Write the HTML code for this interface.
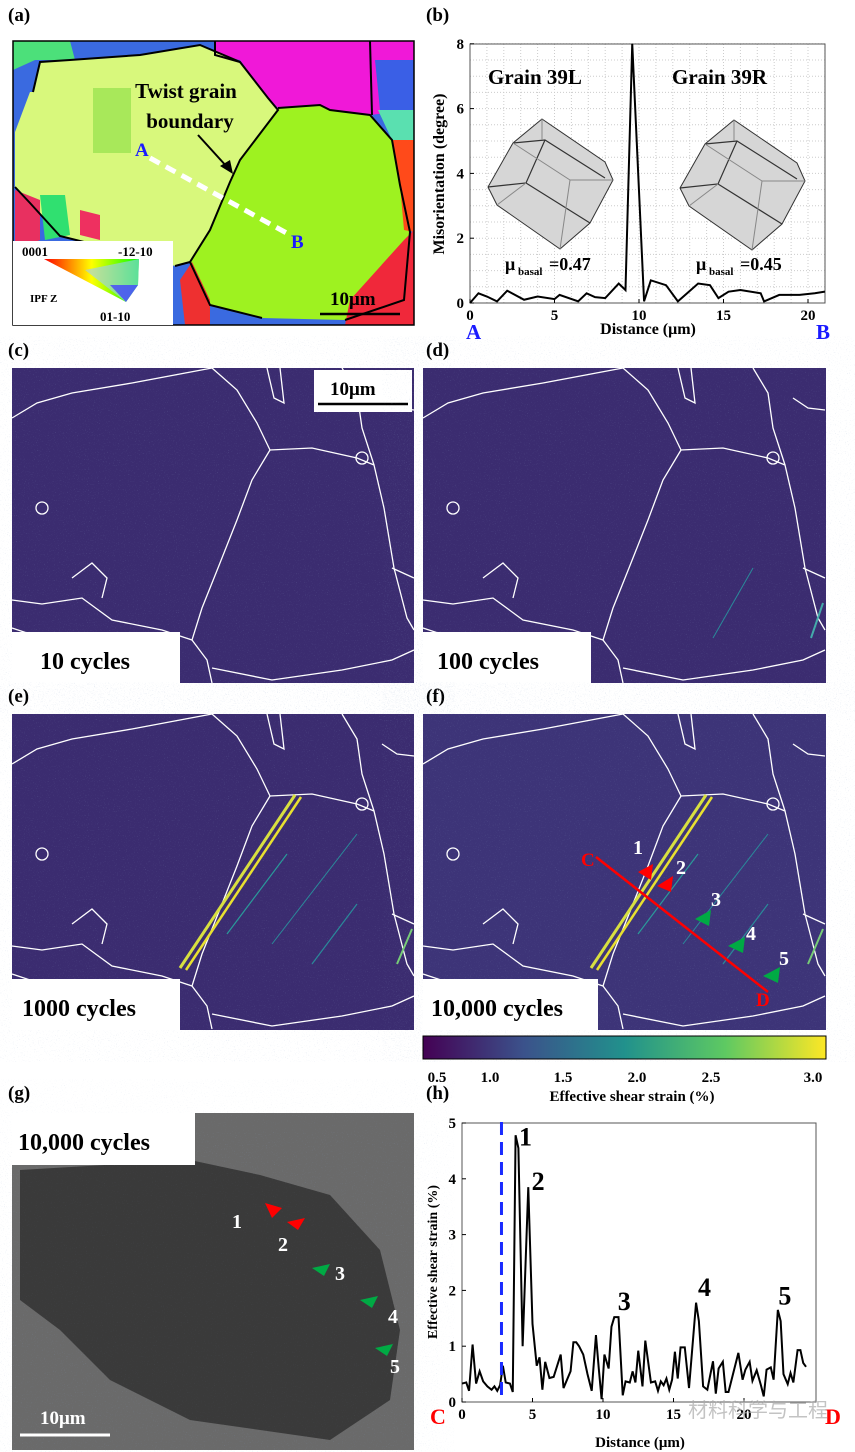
<!DOCTYPE html>
<html><head><meta charset="utf-8"><style>
body{margin:0;background:#fff;width:855px;height:1452px;position:relative;overflow:hidden;font-family:"Liberation Serif",serif}
.lab{position:absolute;font-weight:bold;font-size:19px;color:#000}
svg{position:absolute;left:0;top:0}
</style></head><body>
<div class="lab" style="left:8px;top:5px">(a)</div>
<div class="lab" style="left:426px;top:5px">(b)</div>
<div class="lab" style="left:8px;top:340px">(c)</div>
<div class="lab" style="left:426px;top:340px">(d)</div>
<div class="lab" style="left:8px;top:686px">(e)</div>
<div class="lab" style="left:426px;top:686px">(f)</div>
<div class="lab" style="left:8px;top:1083px">(g)</div>
<div class="lab" style="left:426px;top:1083px">(h)</div>

<svg width="855" height="1452" font-family="Liberation Serif, serif">
<defs>
<linearGradient id="vir" x1="0" x2="1"><stop offset="0" stop-color="#440154"/><stop offset="0.25" stop-color="#3b528b"/><stop offset="0.5" stop-color="#21918c"/><stop offset="0.75" stop-color="#5ec962"/><stop offset="1" stop-color="#fde725"/></linearGradient>
<filter id="spk"><feTurbulence type="fractalNoise" baseFrequency="0.9" numOctaves="1" seed="3"/><feColorMatrix values="0 0 0 0 0.25  0 0 0 0 0.35  0 0 0 0 0.55  0 0 0 1.2 -0.75"/></filter>
<linearGradient id="ipf" x1="0" y1="0" x2="1" y2="0"><stop offset="0" stop-color="#f00"/><stop offset="0.5" stop-color="#ff0"/><stop offset="1" stop-color="#0f0"/></linearGradient>
<g id="gb" fill="none" stroke="#fff" stroke-width="1.3">
<polyline points="0,50 25,35 60,25 120,15 200,0"/>
<polyline points="200,0 225,22 245,55 258,82 300,80 345,90 362,97 372,140 382,200 395,250 402,262"/>
<polyline points="258,82 240,112 225,152 206,200 190,240 180,272 195,292 200,315"/>
<polyline points="0,232 30,236 70,230 100,252 150,262 180,272"/>
<polyline points="200,300 260,312 330,302 380,292 402,282"/>
<polyline points="330,0 345,25 350,60 362,97"/>
<polyline points="255,0 262,30 272,35 268,0"/>
<polyline points="370,30 385,40 402,42"/>
<polyline points="30,270 28,315"/><polyline points="0,260 30,270 60,275 80,300 78,315"/>
<circle cx="350" cy="90" r="6"/><circle cx="140" cy="300" r="8"/><circle cx="30" cy="140" r="6"/>
<polyline points="380,200 402,210"/><polyline points="60,210 80,195 95,210 90,230"/>
</g>
</defs>

<g>
<rect x="13" y="41" width="401" height="284" fill="#3a6ae0"/>
<polygon points="13,41 70,41 75,60 35,60 13,70" fill="#4ce07a"/>
<polygon points="215,41 414,41 414,110 370,115 330,110 320,106 278,108 268,98 240,60 215,55" fill="#f018d8"/>
<polygon points="375,60 414,60 414,110 380,110" fill="#3a5fe6"/>
<polygon points="33,92 40,62 70,60 140,55 200,45 240,62 268,98 278,110 240,160 230,182 210,230 190,262 175,266 160,262 110,262 100,246 60,236 30,203 15,187 15,132 30,92" fill="#d8f87c"/>
<rect x="93" y="88" width="38" height="65" fill="#a8e85a"/>
<polygon points="278,108 320,105 330,110 370,115 392,140 400,185 410,232 404,300 345,320 262,318 210,305 190,262 210,230 230,182 240,160" fill="#9ef220"/>
<polygon points="392,140 414,140 414,232 404,230 400,185" fill="#ff4a1a"/>
<polygon points="404,240 414,230 414,325 345,325 350,300" fill="#f0283a"/>
<polygon points="192,262 210,300 210,325 185,325 180,280" fill="#ee3030"/>
<polygon points="15,190 40,200 40,240 15,250" fill="#e83060"/>
<polygon points="40,195 65,195 70,235 45,240" fill="#30e070"/>
<polygon points="80,210 100,215 100,240 80,235" fill="#ee3060"/>
<polygon points="378,110 414,110 414,140 392,140" fill="#5ae0b0"/>
<g fill="none" stroke="#000" stroke-width="2">
<polyline points="33,92 40,62 70,60 140,55 200,45 240,62 268,98 278,110 240,160 230,182 210,230 190,262 175,266"/>
<polyline points="278,108 320,105 330,110 370,115 392,140 400,185 410,232 404,300 345,320"/>
<polyline points="190,262 210,305 262,318"/><polyline points="15,187 30,203 60,236 100,246 110,262"/>
<polyline points="215,41 215,55 240,62"/><polyline points="370,41 372,115"/>
</g>
<rect x="13" y="41" width="401" height="284" fill="none" stroke="#000" stroke-width="1.5"/>
<line x1="150" y1="158" x2="292" y2="236" stroke="#fff" stroke-width="5" stroke-dasharray="11,7"/>
<text x="135" y="156" font-size="19" font-weight="bold" fill="#1a1aff">A</text>
<text x="291" y="248" font-size="19" font-weight="bold" fill="#1a1aff">B</text>
<text x="186" y="98" font-size="21" font-weight="bold" text-anchor="middle">Twist grain</text>
<text x="190" y="128" font-size="21" font-weight="bold" text-anchor="middle">boundary</text>
<line x1="198" y1="135" x2="228" y2="168" stroke="#000" stroke-width="2"/><polygon points="233,174 220,166 230,160" fill="#000"/>
<rect x="13" y="241" width="160" height="84" fill="#fff"/>
<polygon points="44,259 139,259 138,285 126,302" fill="url(#ipf)"/>
<polygon points="85,270 139,259 138,285 126,302" fill="#9cf" opacity="0.6"/>
<polygon points="110,285 138,285 126,302" fill="#44f" opacity="0.8"/>
<text x="22" y="256" font-size="13" font-weight="bold">0001</text>
<text x="118" y="256" font-size="13" font-weight="bold">-12-10</text>
<text x="30" y="302" font-size="11" font-weight="bold">IPF Z</text>
<text x="100" y="321" font-size="13" font-weight="bold">01-10</text>
<text x="330" y="305" font-size="19" font-weight="bold">10μm</text>
<line x1="320" y1="314" x2="400" y2="314" stroke="#000" stroke-width="2.5"/>
</g>

<g transform="translate(12,368)">
<rect width="402" height="315" fill="#3b2c70"/><rect width="402" height="315" filter="url(#spk)"/><use href="#gb"/>
<rect x="0" y="264" width="168" height="51" fill="#fff"/><text x="28" y="301" font-size="24" font-weight="bold">10 cycles</text>
<rect x="302" y="2" width="98" height="42" fill="#fff"/><text x="318" y="27" font-size="19" font-weight="bold">10μm</text><line x1="306" y1="36" x2="396" y2="36" stroke="#000" stroke-width="2.5"/>
</g>
<g transform="translate(423,368)">
<rect width="403" height="315" fill="#3b2c70"/><rect width="403" height="315" filter="url(#spk)"/><use href="#gb"/>
<line x1="290" y1="270" x2="330" y2="200" stroke="#2a8a9a" stroke-width="1"/><line x1="388" y1="270" x2="400" y2="235" stroke="#4aa" stroke-width="2"/>
<rect x="0" y="264" width="168" height="51" fill="#fff"/><text x="14" y="301" font-size="24" font-weight="bold">100 cycles</text>
</g>
<g transform="translate(12,714)">
<rect width="402" height="316" fill="#3b2c70"/><rect width="402" height="316" filter="url(#spk)"/><use href="#gb"/>
<line x1="168" y1="254" x2="283" y2="81" stroke="#d8e040" stroke-width="3"/><line x1="174" y1="256" x2="289" y2="83" stroke="#e8e030" stroke-width="2.5"/>
<line x1="215" y1="220" x2="275" y2="140" stroke="#2a9a9a" stroke-width="1.2"/><line x1="260" y1="230" x2="345" y2="120" stroke="#2a8a9a" stroke-width="1"/><line x1="300" y1="250" x2="345" y2="190" stroke="#2a8a9a" stroke-width="1.2"/><line x1="385" y1="250" x2="400" y2="215" stroke="#7c7" stroke-width="2"/>
<rect x="0" y="265" width="168" height="51" fill="#fff"/><text x="10" y="302" font-size="24" font-weight="bold">1000 cycles</text>
</g>
<g transform="translate(423,714)">
<rect width="403" height="316" fill="#3d3478"/><rect width="403" height="316" filter="url(#spk)"/><use href="#gb"/>
<line x1="168" y1="254" x2="283" y2="81" stroke="#d8e040" stroke-width="3"/><line x1="174" y1="256" x2="289" y2="83" stroke="#e8e030" stroke-width="2.5"/>
<line x1="215" y1="220" x2="275" y2="140" stroke="#2a9a9a" stroke-width="1.2"/><line x1="260" y1="230" x2="345" y2="120" stroke="#2a8a9a" stroke-width="1"/><line x1="300" y1="250" x2="345" y2="190" stroke="#2a8a9a" stroke-width="1.2"/><line x1="385" y1="250" x2="400" y2="215" stroke="#7c7" stroke-width="2"/>
<line x1="173" y1="143" x2="345" y2="278" stroke="#f00" stroke-width="2.5"/>
<text x="158" y="152" font-size="19" font-weight="bold" fill="#f00">C</text><text x="333" y="292" font-size="19" font-weight="bold" fill="#f00">D</text>
<g font-size="20" font-weight="bold" fill="#fff"><text x="210" y="140">1</text><text x="253" y="160">2</text><text x="288" y="192">3</text><text x="323" y="226">4</text><text x="356" y="251">5</text></g>
<g><polygon points="215,158 230,150 228,166" fill="#f00"/><polygon points="234,172 250,162 248,178" fill="#f00"/><polygon points="272,205 288,196 286,212" fill="#0a4"/><polygon points="305,232 322,223 320,239" fill="#0a4"/><polygon points="340,262 357,253 355,269" fill="#0a4"/></g>
<rect x="0" y="265" width="175" height="51" fill="#fff"/><text x="8" y="302" font-size="24" font-weight="bold">10,000 cycles</text>
</g>
<g>
<rect x="423" y="1036" width="403" height="23" fill="url(#vir)" stroke="#000"/>
<g font-size="15" font-weight="bold" text-anchor="middle"><text x="437" y="1082">0.5</text><text x="490" y="1082">1.0</text><text x="563" y="1082">1.5</text><text x="637" y="1082">2.0</text><text x="711" y="1082">2.5</text><text x="813" y="1082">3.0</text>
<text x="632" y="1101" font-size="15">Effective shear strain (%)</text></g>
</g>
<g>
<rect x="12" y="1113" width="402" height="337" fill="#6a6a6a"/>
<rect x="12" y="1113" width="402" height="337" filter="url(#spk)" opacity="0.6"/>
<polygon points="20,1170 190,1160 260,1175 330,1195 380,1250 400,1330 390,1400 330,1440 190,1420 110,1380 60,1330 20,1300" fill="#3a3a3a"/>
<polygon points="20,1170 190,1160 260,1175 330,1195 380,1250 400,1330 390,1400 330,1440 190,1420 110,1380 60,1330 20,1300" filter="url(#spk)" opacity="0.4"/>
<rect x="12" y="1113" width="183" height="52" fill="#fff"/><text x="18" y="1150" font-size="24" font-weight="bold">10,000 cycles</text>
<g font-size="20" font-weight="bold" fill="#fff"><text x="232" y="1228">1</text><text x="278" y="1251">2</text><text x="335" y="1280">3</text><text x="388" y="1323">4</text><text x="390" y="1373">5</text></g>
<g><polygon points="265,1203 282,1208 272,1218" fill="#f00"/><polygon points="287,1222 305,1218 298,1230" fill="#f00"/><polygon points="312,1268 330,1264 324,1276" fill="#0a4"/><polygon points="360,1300 378,1296 372,1308" fill="#0a4"/><polygon points="375,1348 393,1344 387,1356" fill="#0a4"/></g>
<text x="40" y="1424" font-size="19" font-weight="bold" fill="#fff">10μm</text><line x1="20" y1="1435" x2="110" y2="1435" stroke="#fff" stroke-width="3"/>
</g>
<g id="chartB"></g>
<g id="chartH"></g>
</svg>
<script>
const ns="http://www.w3.org/2000/svg";
const bX=[0,0.5,1.0,1.6,2.2,3.2,4.0,5.0,5.3,6.4,6.9,7.4,8.0,8.8,9.2,9.6,10.3,10.7,11.6,12.3,13.5,14.2,14.7,15.3,16.0,17.2,17.4,18.3,19.5,20.4,21.0];
const bY=[0,0.3,0.2,0.05,0.38,0.1,0.2,0.12,0.25,0.05,0.3,0.18,0.15,0.6,0.4,8,0.05,0.7,0.55,0.05,0.6,0.55,0.15,0.35,0.4,0.3,0.05,0.25,0.25,0.3,0.35];
const bXTicks=[0,5,10,15,20];const bYTicks=[0,2,4,6,8];
const hX=[0,0.3,0.5,0.75,1.0,1.25,1.5,1.8,2.1,2.3,2.5,2.7,2.9,3.1,3.4,3.6,3.8,4.0,4.3,4.7,5.0,5.3,5.5,5.7,5.9,6.2,6.5,7.0,7.2,7.7,7.9,8.1,8.3,8.6,8.9,9.2,9.5,9.7,9.9,10.1,10.4,10.6,10.8,11.1,11.4,11.6,11.9,12.1,12.3,12.5,12.8,13.0,13.4,13.7,13.9,14.1,14.3,14.5,14.7,14.9,15.1,15.3,15.5,15.8,16.1,16.6,16.8,17.1,17.4,17.8,18.0,18.2,18.5,18.7,18.9,19.6,19.9,20.1,20.4,20.6,20.9,21.2,21.4,21.6,21.9,22.1,22.4,22.6,22.8,23.1,23.3,23.5,23.8,24.0,24.2,24.4];
const hY=[0.33,0.35,0.2,1.03,0.33,0.55,0.37,0.28,0.22,0.28,0.2,0.3,0.65,0.35,0.33,0.18,4.78,4.55,1.0,3.85,1.4,0.65,0.8,0.22,0.72,0.43,0.45,0.85,0.25,0.55,1.07,1.07,1.0,0.85,0.5,0.2,1.2,0.6,0.05,0.85,0.6,1.35,1.52,1.52,0.12,0.37,0.35,0.55,0.35,0.92,0.28,1.1,0.35,0.37,0.2,0.37,0.3,0.42,0.22,0.4,0.9,0.42,0.98,0.98,0.25,1.78,1.45,0.28,0.22,0.73,0.15,0.6,0.72,0.18,0.18,0.88,0.4,0.58,0.72,0.38,0.57,0.3,0.1,0.58,0.62,0.4,1.65,1.45,0.5,0.32,0.52,0.35,0.93,0.93,0.7,0.63];
const hXTicks=[0,5,10,15,20];const hYTicks=[0,1,2,3,4,5];
function el(p,t,a){const e=document.createElementNS(ns,t);for(const k in a)e.setAttribute(k,a[k]);p.appendChild(e);return e;}
function chart(g,o){
 const sx=v=>o.x0+(v-o.xmin)*o.kx, sy=v=>o.y0-(v)*o.ky;
 if(o.grid){
  for(let v=0;v<=o.xmax;v+=1)el(g,'line',{x1:sx(v),x2:sx(v),y1:o.y0,y2:o.y1,stroke:'#ccc','stroke-dasharray':'1,2'});
  for(let v=0;v<=o.yTicks[o.yTicks.length-1];v+=o.ygs)el(g,'line',{x1:o.x0,x2:o.x1,y1:sy(v),y2:sy(v),stroke:'#ccc','stroke-dasharray':'1,2'});}
 el(g,'rect',{x:o.x0,y:o.y1,width:o.x1-o.x0,height:o.y0-o.y1,fill:'none',stroke:'#555','stroke-width':1});
 o.xTicks.forEach(v=>{el(g,'line',{x1:sx(v),x2:sx(v),y1:o.y0,y2:o.y0-4,stroke:'#000'});
  const t=el(g,'text',{x:sx(v),y:o.y0+17,'font-size':15,'font-weight':'bold','text-anchor':'middle'});t.textContent=v;});
 o.yTicks.forEach(v=>{el(g,'line',{x1:o.x0,x2:o.x0+4,y1:sy(v),y2:sy(v),stroke:'#000'});
  const t=el(g,'text',{x:o.x0-6,y:sy(v)+5,'font-size':15,'font-weight':'bold','text-anchor':'end'});t.textContent=v;});
 const line=el(g,'polyline',{points:o.xs.map((x,i)=>sx(x)+','+sy(o.ys[i])).join(' '),fill:'none',stroke:'#000','stroke-width':2});
 
 
 return {sx,sy};
}
const gB=document.getElementById('chartB');
function txt(g,x,y,s,a){const t=el(g,'text',Object.assign({x,y,'font-weight':'bold'},a));t.textContent=s;return t;}
const cb=chart(gB,{x0:470,x1:825,y0:303,y1:44,xmin:0,xmax:21,kx:16.9,ky:32.4,xTicks:bXTicks,yTicks:bYTicks,xs:bX,ys:bY,grid:true,ygs:0.5});
txt(gB,488,84,'Grain 39L',{'font-size':21});txt(gB,672,84,'Grain 39R',{'font-size':21});
[[490,120],[682,121]].forEach(([x,y])=>{
 const P=(pts)=>pts.map(([a,b])=>(x+a)+','+(y+b)).join(' ');
 el(gB,'polygon',{points:P([[52,-1],[115,42],[123,60],[100,103],[70,129],[7,85],[-2,67],[23,23]]),fill:'#d6d6d6',stroke:'#333','stroke-width':1});
 el(gB,'polyline',{points:P([[23,23],[55,20],[115,58]]),fill:'none',stroke:'#333','stroke-width':1.2});
 el(gB,'polyline',{points:P([[55,20],[36,63],[-2,67]]),fill:'none',stroke:'#333','stroke-width':1.2});
 el(gB,'polyline',{points:P([[36,63],[100,103]]),fill:'none',stroke:'#333','stroke-width':1.2});
 el(gB,'polyline',{points:P([[52,-1],[52,20]]),fill:'none',stroke:'#888'});
 el(gB,'polyline',{points:P([[23,23],[80,60],[123,60]]),fill:'none',stroke:'#888'});
 el(gB,'polyline',{points:P([[80,60],[70,129]]),fill:'none',stroke:'#888'});
 el(gB,'polyline',{points:P([[7,85],[36,63]]),fill:'none',stroke:'#888'});
});
txt(gB,505,270,'μ',{'font-size':18});txt(gB,518,275,'basal',{'font-size':11});txt(gB,549,270,'=0.47',{'font-size':18});
txt(gB,696,270,'μ',{'font-size':18});txt(gB,709,275,'basal',{'font-size':11});txt(gB,740,270,'=0.45',{'font-size':18});
txt(gB,648,334,'Distance (μm)',{'font-size':16,'text-anchor':'middle'});
txt(gB,0,0,'Misorientation (degree)',{'font-size':16,'text-anchor':'middle',transform:'translate(444,174) rotate(-90)'});
txt(gB,466,339,'A',{'font-size':21,fill:'#1a1aff'});txt(gB,816,339,'B',{'font-size':21,fill:'#1a1aff'});
const gH=document.getElementById('chartH');
const ch=chart(gH,{x0:462,x1:816,y0:1402,y1:1123,xmin:0,xmax:25,kx:14.1,ky:55.8,xTicks:hXTicks,yTicks:hYTicks,xs:hX,ys:hY});
el(gH,'line',{x1:ch.sx(2.8),x2:ch.sx(2.8),y1:1122,y2:1402,stroke:'#1a2bff','stroke-width':3,'stroke-dasharray':'13,7'});
[[3.9,4.6,'1'],[4.8,3.8,'2'],[10.9,1.65,'3'],[16.6,1.9,'4'],[22.3,1.75,'5']].forEach(([x,y,s])=>txt(gH,ch.sx(x)+2,ch.sy(y),s,{'font-size':26}));
txt(gH,640,1447,'Distance (μm)',{'font-size':15,'text-anchor':'middle'});
txt(gH,0,0,'Effective shear strain (%)',{'font-size':14,'text-anchor':'middle',transform:'translate(437,1262) rotate(-90)'});
txt(gH,430,1424,'C',{'font-size':22,fill:'#f00'});txt(gH,825,1424,'D',{'font-size':22,fill:'#f00'});
txt(gH,688,1417,'材料科学与工程',{'font-size':20,fill:'#aaa','font-weight':'normal','font-family':'Liberation Sans, Noto Sans CJK SC, sans-serif',opacity:0.7});
</script>
</body></html>
